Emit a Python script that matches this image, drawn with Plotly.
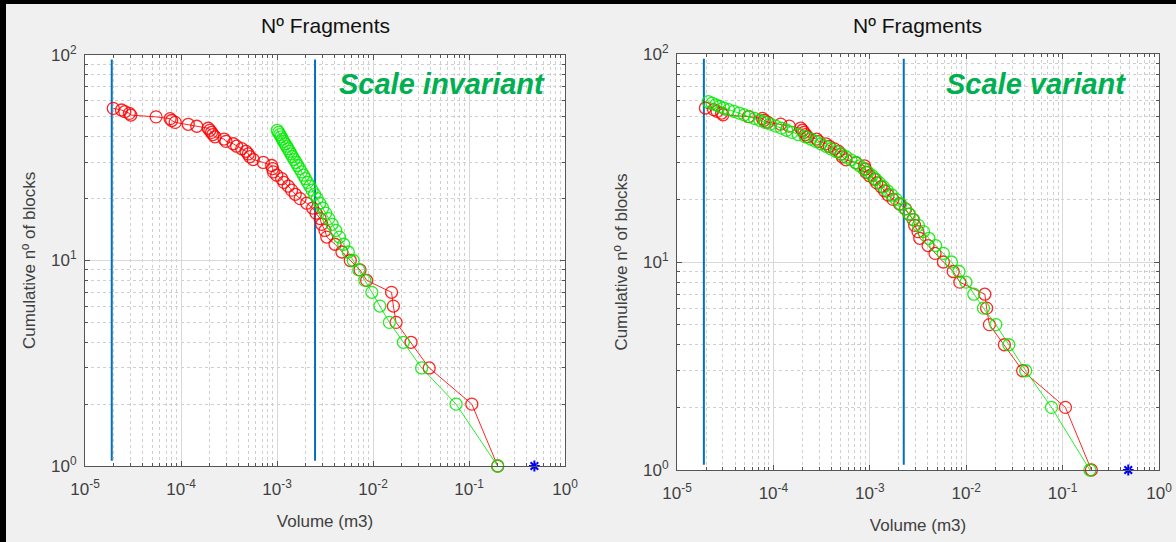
import plotly.graph_objects as go

# ---------------- data ----------------
rank_red = list(range(1, 56))
vol_red = [0.199, 0.107, 0.0385, 0.0249, 0.0174, 0.0163, 0.0156, 0.00859, 0.00733, 0.0058,
           0.00475, 0.00402, 0.0033, 0.00316, 0.00292, 0.00281, 0.00255, 0.00235, 0.00204, 0.00174,
           0.00155, 0.00142, 0.00131, 0.00118, 0.00112, 0.000993, 0.000916, 0.00090, 0.00088, 0.00072,
           0.000566, 0.00052, 0.000502, 0.000475, 0.000429, 0.00038, 0.00035, 0.000294, 0.000281, 0.000226,
           0.000215, 0.000208, 0.0002, 0.000192, 0.000146, 0.000119, 8.7e-5, 8.0e-5, 7.7e-5, 5.5e-5,
           3.0e-5, 2.9e-5, 2.6e-5, 2.4e-5, 1.97e-5]

rank_fit_inv = list(range(1, 44))
vol_fit_inv = [0.199, 0.0733, 0.0321, 0.0207, 0.01481, 0.01179, 0.00972, 0.00823, 0.00710, 0.00623,
               0.00553, 0.00496, 0.00448, 0.00409, 0.00375, 0.00346, 0.00321, 0.00299, 0.00279, 0.00262,
               0.00246, 0.00232, 0.00220, 0.00208, 0.00198, 0.00189, 0.00180, 0.00172, 0.00164, 0.00158,
               0.00151, 0.00145, 0.00140, 0.00135, 0.00130, 0.00126, 0.00121, 0.00117, 0.00114, 0.00110,
               0.00107, 0.00104, 0.001005]

rank_fit_var = list(range(1, 60))
vol_fit_var = [0.192, 0.0767, 0.0414, 0.0277, 0.0203, 0.0151, 0.0120, 0.00995, 0.00841, 0.00703,
               0.00579, 0.00481, 0.00410, 0.00361, 0.00319, 0.00284, 0.00256, 0.00232, 0.00209, 0.00188,
               0.00169, 0.00152, 0.00138, 0.00126, 0.00115, 0.00106, 0.000955, 0.000867, 0.000787, 0.000718,
               0.000637, 0.000569, 0.000508, 0.000448, 0.000395, 0.000351, 0.000311, 0.000275, 0.000244, 0.000214,
               0.000181, 0.000156, 0.000137, 0.000121, 0.000106, 9.29e-5, 8.19e-5, 7.23e-5, 6.38e-5, 5.64e-5,
               4.98e-5, 4.40e-5, 3.88e-5, 3.43e-5, 3.03e-5, 2.76e-5, 2.52e-5, 2.31e-5, 2.11e-5]

cut_left = [1.9e-5, 0.00249]
cut_right = [1.9e-5, 0.00225]
cut_span = [1.06, 95]
star_vol = [0.48]
star_n = [1]

x_tickvals = [1e-5, 1e-4, 1e-3, 1e-2, 1e-1, 1]
x_ticktext = ["10<sup>-5</sup>", "10<sup>-4</sup>", "10<sup>-3</sup>", "10<sup>-2</sup>",
              "10<sup>-1</sup>", "10<sup>0</sup>"]
y_tickvals = [1, 10, 100]
y_ticktext = ["10<sup>0</sup>", "10<sup>1</sup>", "10<sup>2</sup>"]

panel_titles = ["Nº Fragments", "Nº Fragments"]
panel_labels = ["Scale invariant", "Scale variant"]

# ---------------- figure ----------------
W, H = 1176, 542
RED = "rgba(255,0,0,0.85)"
GREEN = "rgba(0,235,0,0.85)"
BLUE = "#0072BD"
FONT = "Liberation Sans, Arial, sans-serif"

fig = go.Figure()


def add_panel(xa, ya, fit_v, fit_n, cuts):
    for c in cuts:
        fig.add_trace(go.Scatter(x=[c, c], y=cut_span, mode="lines",
                                 line=dict(color=BLUE, width=2), xaxis=xa, yaxis=ya,
                                 showlegend=False, hoverinfo="skip"))
    fig.add_trace(go.Scatter(x=vol_red, y=rank_red, mode="lines+markers",
                             line=dict(color=RED, width=1),
                             marker=dict(symbol="circle-open", size=12, color=RED,
                                         line=dict(width=1.3, color=RED)),
                             xaxis=xa, yaxis=ya, showlegend=False, cliponaxis=False))
    fig.add_trace(go.Scatter(x=fit_v, y=fit_n, mode="lines+markers",
                             line=dict(color=GREEN, width=1),
                             marker=dict(symbol="circle-open", size=12, color=GREEN,
                                         line=dict(width=1.3, color=GREEN)),
                             xaxis=xa, yaxis=ya, showlegend=False, cliponaxis=False))
    fig.add_trace(go.Scatter(x=star_vol, y=star_n, mode="markers",
                             marker=dict(symbol="asterisk-open", size=9, color="#0000ff",
                                         line=dict(width=2, color="#0000ff")),
                             xaxis=xa, yaxis=ya, showlegend=False, cliponaxis=False))


add_panel("x", "y", vol_fit_inv, rank_fit_inv, cut_left)
add_panel("x2", "y2", vol_fit_var, rank_fit_var, cut_right)

minor_common = dict(ticks="inside", ticklen=3, tickcolor="#555555", showgrid=True,
                    gridcolor="#cfcfcf", griddash="dot", gridwidth=1, dtick="D1")


def xaxis(domain, anchor):
    return dict(type="log", range=[-5, 0], domain=domain, anchor=anchor,
                tickmode="array", tickvals=x_tickvals, ticktext=x_ticktext,
                ticks="inside", ticklen=5, tickcolor="#555555", ticklabelstandoff=8,
                showline=True, linecolor="#555555", linewidth=1, mirror="allticks",
                showgrid=True, gridcolor="#d9d9d9", gridwidth=1,
                minor=minor_common, zeroline=False, automargin=False,
                tickfont=dict(family=FONT, size=17, color="#404040"),
                title=dict(text="Volume (m3)", font=dict(family=FONT, size=17, color="#404040"),
                           standoff=16))


def yaxis(domain, anchor):
    return dict(type="log", range=[0, 2], domain=domain, anchor=anchor,
                tickmode="array", tickvals=y_tickvals, ticktext=y_ticktext,
                ticks="inside", ticklen=5, tickcolor="#555555", ticklabelstandoff=4,
                showline=True, linecolor="#555555", linewidth=1, mirror="allticks",
                showgrid=True, gridcolor="#d9d9d9", gridwidth=1,
                minor=minor_common, zeroline=False, automargin=False,
                tickfont=dict(family=FONT, size=17, color="#404040"),
                title=dict(text="Cumulative nº of blocks",
                           font=dict(family=FONT, size=17, color="#404040"), standoff=11))


xl = [85 / W, 565 / W]
yl = [1 - 466 / H, 1 - 55 / H]
xr = [677 / W, 1159 / W]
yr = [1 - 470 / H, 1 - 54 / H]

fig.update_layout(
    width=W, height=H,
    margin=dict(l=0, r=0, t=0, b=0),
    paper_bgcolor="#f0f0f0", plot_bgcolor="#ffffff",
    xaxis=xaxis(xl, "y"), yaxis=yaxis(yl, "x"),
    xaxis2=xaxis(xr, "y2"), yaxis2=yaxis(yr, "x2"),
    font=dict(family=FONT),
)

for dom, ydom, ttl, lab, labx in [(xl, yl, panel_titles[0], panel_labels[0], 442 / W),
                                   (xr, yr, panel_titles[1], panel_labels[1], 1036 / W)]:
    fig.add_annotation(x=(dom[0] + dom[1]) / 2, y=1 - 25 / H, xref="paper", yref="paper",
                       text=ttl, showarrow=False, xanchor="center", yanchor="middle",
                       font=dict(family=FONT, size=21, color="#111111"))
    fig.add_annotation(x=labx, y=1 - 84 / H, xref="paper", yref="paper",
                       text="<b><i>" + lab + "</i></b>", showarrow=False,
                       xanchor="center", yanchor="middle",
                       font=dict(family=FONT, size=29, color="#00b050"))

# black frame of the original screenshot (left and top edges)
fig.add_shape(type="rect", xref="paper", yref="paper", x0=0, x1=6 / W, y0=0, y1=1,
              fillcolor="#000000", line=dict(width=0), layer="above")
fig.add_shape(type="rect", xref="paper", yref="paper", x0=0, x1=1, y0=1 - 4 / H, y1=1,
              fillcolor="#000000", line=dict(width=0), layer="above")

fig.write_html("out.html")
